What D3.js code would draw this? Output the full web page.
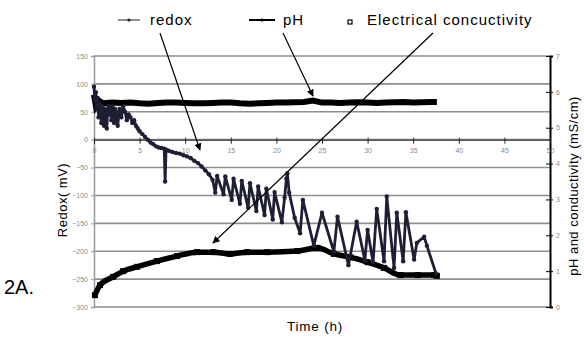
<!DOCTYPE html>
<html><head><meta charset="utf-8">
<script src="https://cdn.jsdelivr.net/npm/d3@7"></script>
<style>html,body{margin:0;padding:0;background:#fff;}svg{display:block;font-family:Arial,"Liberation Sans",sans-serif;}</style>
</head><body><svg id="c" width="584" height="338"></svg>
<script>
// ---- data ----
const xTicks = [0,5,10,15,20,25,30,35,40,45,50];
const leftTicks = [150,100,50,0,-50,-100,-150,-200,-250,-300];
const rightTicks = [0,1,2,3,4,5,6,7];
const seriesNames = ["redox","pH","Electrical concuctivity"];

const redoxT = [0,0.1,0.2,0.3,0.4,0.5,0.6,0.7,0.8,0.9,1.0,1.1,1.2,1.3,1.4,1.5,1.6,1.7,1.8,1.9,2.0,2.1,2.2,2.3,2.4,2.6,2.8,3.0,3.2,3.4,3.6,3.8,4.0,4.2,4.4,4.6,4.8,5.0,5.3,5.6,5.9,6.2,6.5,6.8,7.1,7.4,7.7,7.8,7.9,8.2,8.6,9.0,9.4,9.8,10.2,10.6,11.0,11.4,11.8,12.2,12.6,13.0,13.3,13.5,14.2,14.4,15.1,15.3,16.0,16.2,16.9,17.1,17.8,18.0,18.7,18.9,19.6,19.8,20.6,20.9,21.1,21.2,21.4,22.0,22.6,22.9,24.1,25.0,26.3,26.7,27.9,28.8,29.7,30.0,30.6,31.0,31.8,32.1,32.9,33.2,33.9,34.2,35.1,35.4,36.2,36.5,37.5];
const redoxV = [95,70,85,55,75,40,65,50,30,60,45,25,55,40,20,50,60,45,55,35,60,45,30,55,50,25,55,40,60,50,35,45,40,30,35,25,20,15,10,5,0,-5,-8,-12,-14,-15,-16,-75,-18,-20,-22,-24,-25,-28,-30,-33,-38,-42,-48,-55,-62,-72,-95,-65,-98,-66,-108,-70,-115,-74,-122,-78,-128,-84,-135,-88,-143,-94,-148,-104,-70,-60,-95,-140,-168,-108,-190,-131,-201,-138,-225,-147,-216,-162,-220,-124,-218,-102,-230,-131,-218,-130,-215,-185,-174,-190,-240];

const phT = [0,0.2,0.5,1,2,3,4,5,6,7,8,9,10,11,12,13,14,15,16,17,18,19,20,21,22,23,24,25,26,27,28,29,30,31,32,33,34,35,36,37,37.6];
const phV = [5.92,5.62,5.76,5.68,5.7,5.69,5.7,5.68,5.67,5.69,5.7,5.7,5.69,5.68,5.68,5.69,5.7,5.7,5.68,5.67,5.68,5.69,5.7,5.7,5.71,5.72,5.76,5.7,5.7,5.69,5.7,5.71,5.7,5.69,5.7,5.71,5.72,5.7,5.71,5.72,5.72];

const condT = [0.1,0.66,2.1,3.2,4.7,6.9,9.1,11.3,13.1,14.9,16.8,19.0,22.3,24.5,26.3,28.1,30.0,31.8,33.6,35.5,37.3,37.6];
const condV = [0.33,0.61,0.84,1.0,1.12,1.28,1.42,1.53,1.53,1.48,1.53,1.53,1.56,1.65,1.48,1.39,1.25,1.09,0.89,0.89,0.89,0.87];

// ---- layout ----
const svg = d3.select("#c");
const x = d3.scaleLinear().domain([0,50]).range([94,550]);
const yL = d3.scaleLinear().domain([-300,150]).range([307,56]);
const yR = d3.scaleLinear().domain([0,7]).range([307,56]);

// gridlines
svg.append("g").selectAll("line").data(leftTicks).join("line")
  .attr("x1",x(0)).attr("x2",x(50)).attr("y1",d=>yL(d)).attr("y2",d=>yL(d))
  .attr("stroke","#8e8e8e").attr("stroke-width",1.6);

// left axis
const gL = svg.append("g").attr("transform",`translate(${x(0)},0)`)
  .call(d3.axisLeft(yL).tickValues(leftTicks).tickSize(3).tickFormat(d3.format("d")));
gL.select(".domain").attr("stroke","#999").attr("stroke-width",1.5);
gL.selectAll(".tick line").attr("stroke","#999");
gL.selectAll("text").attr("fill","#8a8a8a").attr("font-size","7px").attr("font-family","Arial,sans-serif");

// right axis
const gR = svg.append("g").attr("transform",`translate(${x(50)},0)`)
  .call(d3.axisRight(yR).tickValues(rightTicks).tickSize(3).tickFormat(d3.format("d")));
gR.select(".domain").attr("stroke","#000").attr("stroke-width",2);
gR.selectAll(".tick line").attr("stroke","#000").attr("x1",-4).attr("x2",3);
gR.selectAll("text").attr("fill","#8a8a8a").attr("font-size","7px").attr("font-family","Arial,sans-serif");

// x axis at redox = 0
const gX = svg.append("g").attr("transform",`translate(0,${yL(0)})`)
  .call(d3.axisBottom(x).tickValues(xTicks).tickSize(4).tickFormat(d3.format("d")));
gX.select(".domain").attr("stroke","#222").attr("stroke-width",1);
gX.selectAll(".tick line").attr("stroke","#222").attr("y1",-2);
gX.selectAll("text").attr("fill","#8a8a8a").attr("font-size","7px").attr("font-family","Arial,sans-serif").attr("dy","0.9em");

// pH series
const phPts = phT.map((t,i)=>[t,phV[i]]);
svg.append("path").datum(phPts)
  .attr("d",d3.line().x(d=>x(d[0])).y(d=>yR(d[1])))
  .attr("fill","none").attr("stroke","#000").attr("stroke-width",6);

// conductivity series
const cPts = condT.map((t,i)=>[t,condV[i]]);
svg.append("path").datum(cPts)
  .attr("d",d3.line().curve(d3.curveMonotoneX).x(d=>x(d[0])).y(d=>yR(d[1])))
  .attr("fill","none").attr("stroke","#000").attr("stroke-width",5.5);
svg.append("g").selectAll("rect").data(cPts).join("rect")
  .attr("x",d=>x(d[0])-3).attr("y",d=>yR(d[1])-3).attr("width",6).attr("height",6).attr("fill","#000");

// redox series
const rPts = redoxT.map((t,i)=>[t,redoxV[i]]);
svg.append("path").datum(rPts)
  .attr("d",d3.line().x(d=>x(d[0])).y(d=>yL(d[1])))
  .attr("fill","none").attr("stroke","#1e1e34").attr("stroke-width",2.8).attr("stroke-linejoin","round");
svg.append("g").selectAll("circle").data(rPts).join("circle")
  .attr("cx",d=>x(d[0])).attr("cy",d=>yL(d[1])).attr("r",2.2).attr("fill","#1e1e34");

// arrows
const defs = svg.append("defs");
defs.append("marker").attr("id","ah").attr("viewBox","0 0 10 10").attr("refX",9).attr("refY",5)
  .attr("markerWidth",6).attr("markerHeight",6).attr("orient","auto")
  .append("path").attr("d","M0,0L10,5L0,10z").attr("fill","#000");
const arrows = [[160,33,200,150],[283,33,313,96],[433,33,213,243]];
svg.append("g").selectAll("line").data(arrows).join("line")
  .attr("x1",d=>d[0]).attr("y1",d=>d[1]).attr("x2",d=>d[2]).attr("y2",d=>d[3])
  .attr("stroke","#000").attr("stroke-width",1.2).attr("marker-end","url(#ah)");

// legend
const lg = svg.append("g");
lg.append("line").attr("x1",118).attr("x2",140).attr("y1",20).attr("y2",20).attr("stroke","#222").attr("stroke-width",1);
lg.append("circle").attr("cx",129).attr("cy",20).attr("r",1.6).attr("fill","#222");
lg.append("text").attr("x",150).attr("y",25).text(seriesNames[0]);
lg.append("line").attr("x1",249).attr("x2",275).attr("y1",20).attr("y2",20).attr("stroke","#000").attr("stroke-width",2);
lg.append("circle").attr("cx",262).attr("cy",20).attr("r",1.6).attr("fill","#000");
lg.append("text").attr("x",283).attr("y",25).text(seriesNames[1]);
lg.append("rect").attr("x",348).attr("y",20).attr("width",4).attr("height",4).attr("fill","none").attr("stroke","#000").attr("stroke-width",1.2);
lg.append("text").attr("x",367).attr("y",25).text(seriesNames[2]);
lg.selectAll("text").attr("font-size","15px").attr("letter-spacing","1px").attr("fill","#000");

// axis titles
svg.append("text").attr("transform","translate(67,200) rotate(-90)").attr("text-anchor","middle")
  .attr("font-size","13px").attr("letter-spacing","0.5px").text("Redox( mV)");
svg.append("text").attr("transform","translate(578,186) rotate(-90)").attr("text-anchor","middle")
  .attr("font-size","13px").attr("letter-spacing","0.5px").text("pH and conductivity (mS/cm)");
svg.append("text").attr("x",315).attr("y",331).attr("text-anchor","middle").attr("font-size","13.5px").attr("letter-spacing","0.8px").text("Time (h)");
svg.append("text").attr("x",4).attr("y",294).attr("font-size","20px").text("2A.");
</script></body></html>
